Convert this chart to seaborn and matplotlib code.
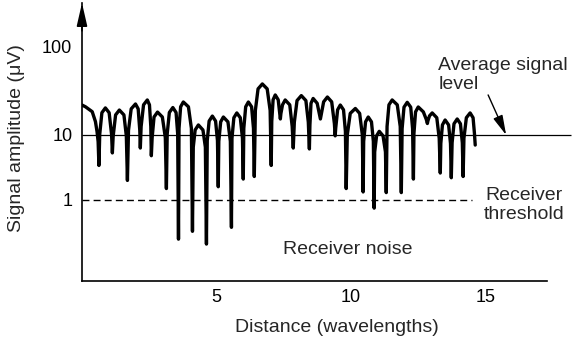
import numpy as np
import matplotlib
matplotlib.use("Agg")
import matplotlib.pyplot as plt
from matplotlib.ticker import NullLocator
import seaborn as sns

sns.set_style("white")
plt.rcParams['font.family'] = ['Liberation Sans', 'DejaVu Sans']

# signal envelope (distance in wavelengths, amplitude in uV)
distance = [
    0.00, 0.13, 0.38, 0.50, 0.56, 0.60, 0.63,
    0.66, 0.74, 0.87, 1.01, 1.10, 1.13,
    1.16, 1.25, 1.39, 1.56, 1.65, 1.69,
    1.73, 1.83, 1.99, 2.09, 2.15, 2.17,
    2.20, 2.29, 2.43, 2.51, 2.56, 2.58,
    2.61, 2.68, 2.81, 2.99, 3.10, 3.14,
    3.17, 3.25, 3.38, 3.50, 3.56, 3.59,
    3.61, 3.67, 3.77, 3.96, 4.07, 4.11,
    4.14, 4.21, 4.33, 4.50, 4.59, 4.63,
    4.66, 4.73, 4.85, 4.97, 5.04, 5.07,
    5.09, 5.16, 5.26, 5.43, 5.52, 5.56,
    5.58, 5.65, 5.76, 5.89, 5.97, 6.00,
    6.02, 6.09, 6.19, 6.31, 6.38, 6.41,
    6.45, 6.55, 6.71, 6.89, 7.00, 7.04,
    7.06, 7.11, 7.19, 7.30, 7.36, 7.38,
    7.40, 7.46, 7.56, 7.73, 7.82, 7.86,
    7.90, 8.00, 8.16, 8.33, 8.42, 8.46,
    8.48, 8.52, 8.60, 8.75, 8.84, 8.87,
    8.90, 8.99, 9.13, 9.29, 9.39, 9.42,
    9.44, 9.51, 9.61, 9.73, 9.80, 9.83,
    9.87, 9.98, 10.17, 10.33, 10.43, 10.46,
    10.48, 10.55, 10.65, 10.77, 10.84, 10.87,
    10.89, 10.96, 11.06, 11.20, 11.29, 11.32,
    11.35, 11.42, 11.54, 11.73, 11.84, 11.88,
    11.91, 11.98, 12.10, 12.23, 12.30, 12.33,
    12.35, 12.41, 12.51, 12.70, 12.81, 12.85,
    12.87, 12.93, 13.03, 13.20, 13.29, 13.33,
    13.35, 13.41, 13.51, 13.64, 13.71, 13.74,
    13.77, 13.84, 13.96, 14.08, 14.15, 14.18,
    14.21, 14.30, 14.44, 14.55, 14.60, 14.63,
]
amplitude = [
    21.9, 20.9, 18.4, 14.2, 10.9, 7.9, 3.4,
    10.2, 17.9, 20.3, 17.9, 10.2, 5.3,
    9.6, 16.9, 19.2, 16.9, 9.6, 2.0,
    11.3, 19.8, 22.5, 19.8, 11.3, 6.3,
    12.5, 22.0, 25.0, 22.0, 12.5, 4.8,
    9.1, 16.0, 18.2, 16.0, 9.1, 1.5,
    10.3, 18.0, 20.5, 18.0, 10.3, 0.25,
    11.9, 20.9, 23.7, 20.9, 11.9, 0.33,
    6.5, 11.4, 13.0, 11.4, 6.5, 0.21,
    8.2, 14.4, 16.4, 14.4, 8.2, 1.6,
    8.0, 14.1, 16.0, 14.1, 8.0, 0.38,
    8.9, 15.7, 17.8, 15.7, 8.9, 2.1,
    11.9, 20.9, 23.7, 20.9, 11.9, 2.3,
    19.0, 33.4, 38.0, 33.4, 19.0, 3.4,
    14.3, 25.1, 28.5, 25.1, 17.5, 15.2,
    17.5, 22.0, 25.0, 22.0, 12.5, 6.3,
    14.0, 24.6, 28.0, 24.6, 14.0, 6.1,
    13.0, 22.9, 26.0, 22.9, 17.0, 15.2,
    17.0, 23.8, 27.0, 23.8, 13.5, 9.7,
    12.0, 19.3, 21.9, 19.3, 11.0, 1.5,
    10.0, 17.6, 20.0, 17.6, 10.0, 1.33,
    8.0, 14.1, 16.0, 14.1, 8.0, 0.75,
    5.5, 9.7, 11.0, 9.7, 5.5, 1.3,
    12.5, 22.0, 25.0, 22.0, 12.5, 1.3,
    11.8, 20.7, 23.5, 20.7, 11.8, 2.1,
    10.4, 18.3, 20.8, 18.3, 15.0, 13.5,
    14.5, 16.5, 17.8, 15.7, 8.9, 2.6,
    7.4, 13.0, 14.8, 13.0, 7.4, 2.2,
    7.6, 13.4, 15.2, 13.4, 7.6, 2.3,
    8.9, 15.7, 17.8, 15.7, 10.5, 7.0,
]

avg_level = 10
threshold = 1
x_ticks = [5, 10, 15]
y_ticks = [1, 10, 100]
y_tick_labels = ["1", "10", "100"]

# the drawing has a taller 10-100 decade than the 1-10 decade
UPPER = 88 / 65


def fwd(v):
    lg = np.log10(np.clip(v, 1e-6, None))
    return np.where(lg > 1, 1 + (lg - 1) * UPPER, lg)


def inv(u):
    lg = np.where(u > 1, 1 + (u - 1) / UPPER, u)
    return 10 ** lg


fig = plt.figure(figsize=(5.73, 3.42), dpi=100)
ax = fig.add_axes([0.1431, 0.1784, 0.8115, 0.8129])
ax.set_yscale('function', functions=(fwd, inv))

sns.lineplot(x=distance, y=amplitude, ax=ax, color='black', linewidth=2.4,
             sort=False, estimator=None)
ax.hlines(avg_level, 0, 18.2, colors='black', lw=0.9, clip_on=False)
ax.hlines(threshold, 0, 14.5, colors='black', lw=1.0, linestyles=(0, (5, 3)))

ax.set_xlim(0, 17.3)
ax.set_ylim(0.0568, 316)
ax.set_xticks(x_ticks)
ax.set_yticks(y_ticks)
ax.set_yticklabels(y_tick_labels)
ax.yaxis.set_minor_locator(NullLocator())
ax.xaxis.set_minor_locator(NullLocator())
ax.tick_params(direction='in', length=8, width=1.1, labelsize=13, pad=6,
               color='black', labelcolor='black')
ax.tick_params(axis='y', length=7, pad=7)

for side in ['top', 'right']:
    ax.spines[side].set_visible(False)
for side in ['left', 'bottom']:
    ax.spines[side].set_linewidth(1.2)
    ax.spines[side].set_color('black')

# arrow head on the y axis
ax.annotate('', xy=(0, 1.0), xytext=(0, 0.9), xycoords='axes fraction',
            arrowprops=dict(arrowstyle='-|>,head_length=0.7,head_width=0.16',
                            mutation_scale=20, lw=1.2, color='black',
                            shrinkA=0, shrinkB=0), annotation_clip=False)

ax.set_xlabel("Distance (wavelengths)", fontsize=14)
ax.set_ylabel("Signal amplitude (\u03bcV)", fontsize=14)
ax.xaxis.set_label_coords(0.548, -0.137)
ax.yaxis.set_label_coords(-0.123, 0.514)

ax.text(13.25, 48, "Average signal\nlevel", fontsize=14, ha='left', va='center',
        linespacing=1.15)
ax.annotate('', xy=(15.78, avg_level), xytext=(15.11, 28.5),
            arrowprops=dict(arrowstyle='-|>,head_length=0.6,head_width=0.15',
                            mutation_scale=20, lw=1.0, color='black',
                            shrinkA=0, shrinkB=0))
ax.text(16.45, 0.84, "Receiver\nthreshold", fontsize=14, ha='center', va='center',
        linespacing=1.15, clip_on=False)
ax.text(9.89, 0.176, "Receiver noise", fontsize=14, ha='center', va='center')

fig.savefig('out.png', dpi=100)
